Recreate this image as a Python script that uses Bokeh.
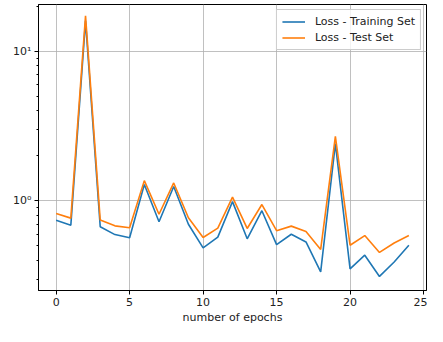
from bokeh.plotting import figure
from bokeh.models import FixedTicker, Range1d, Legend, LegendItem
from bokeh.embed import file_html
from bokeh.resources import INLINE

epochs = list(range(25))
train_loss = [0.742, 0.689, 16.0, 0.672, 0.596, 0.567, 1.288, 0.727, 1.25, 0.699,
              0.486, 0.573, 0.99, 0.559, 0.861, 0.511, 0.599, 0.532, 0.336, 2.42,
              0.352, 0.434, 0.313, 0.391, 0.506]
test_loss = [0.824, 0.768, 17.3, 0.746, 0.682, 0.662, 1.368, 0.815, 1.32, 0.772,
             0.570, 0.659, 1.06, 0.655, 0.947, 0.633, 0.679, 0.626, 0.474, 2.70,
             0.506, 0.587, 0.453, 0.524, 0.587]
x_ticks = [0, 5, 10, 15, 20, 25]
y_ticks = [1, 10]
y_tick_labels = {1: "10⁰", 10: "10¹"}
y_minor = [0.3, 0.4, 0.5, 0.6, 0.7, 0.8, 0.9, 2, 3, 4, 5, 6, 7, 8, 9, 20]
series_names = ["Loss - Training Set", "Loss - Test Set"]
colors = ["#1f77b4", "#ff7f0e"]

p = figure(width=427, height=326, y_axis_type="log", output_backend="svg",
           toolbar_location=None,
           x_range=Range1d(-1.2, 25.2), y_range=Range1d(0.252, 20.6),
           min_border_left=38, min_border_right=1, min_border_top=4,
           min_border_bottom=34)
p.background_fill_color = "white"
p.border_fill_color = "white"
p.outline_line_color = "black"
p.outline_line_width = 1

r1 = p.line(epochs, train_loss, line_color=colors[0], line_width=1.6)
r2 = p.line(epochs, test_loss, line_color=colors[1], line_width=1.6)

p.xaxis.ticker = FixedTicker(ticks=x_ticks)
p.yaxis.ticker = FixedTicker(ticks=y_ticks, minor_ticks=y_minor)
p.yaxis.major_label_overrides = y_tick_labels

for ax in [p.xaxis[0], p.yaxis[0]]:
    ax.major_label_text_font = "DejaVu Sans"
    ax.major_label_text_font_size = "11px"
    ax.major_label_text_color = "#222222"
    ax.axis_line_color = "black"
    ax.major_tick_line_color = "black"
    ax.minor_tick_line_color = "black"
    ax.major_tick_out = 4
    ax.major_tick_in = 0
    ax.minor_tick_out = 2
    ax.minor_tick_in = 0
    ax.major_label_standoff = 3
p.xaxis.minor_tick_line_color = None

p.xaxis.axis_label = "number of epochs"
p.xaxis.axis_label_text_font = "DejaVu Sans"
p.xaxis.axis_label_text_font_size = "11px"
p.xaxis.axis_label_text_font_style = "normal"
p.xaxis.axis_label_text_color = "#222222"
p.xaxis.axis_label_standoff = 2

p.xgrid.ticker = FixedTicker(ticks=x_ticks)
p.ygrid.ticker = FixedTicker(ticks=y_ticks)
p.grid.grid_line_color = "#b0b0b0"
p.grid.grid_line_width = 0.8

legend = Legend(items=[LegendItem(label=series_names[0], renderers=[r1]),
                       LegendItem(label=series_names[1], renderers=[r2])],
                location="top_right")
legend.label_text_font = "DejaVu Sans"
legend.label_text_font_size = "11px"
legend.label_text_color = "#222222"
legend.border_line_color = "#cccccc"
legend.border_line_alpha = 1
legend.background_fill_alpha = 0.8
legend.glyph_width = 23
legend.glyph_height = 13
legend.label_standoff = 10
legend.spacing = 3
legend.padding = 5
legend.margin = 5
legend.label_height = 13
p.add_layout(legend)

open("out.html", "w").write(file_html(p, INLINE))
